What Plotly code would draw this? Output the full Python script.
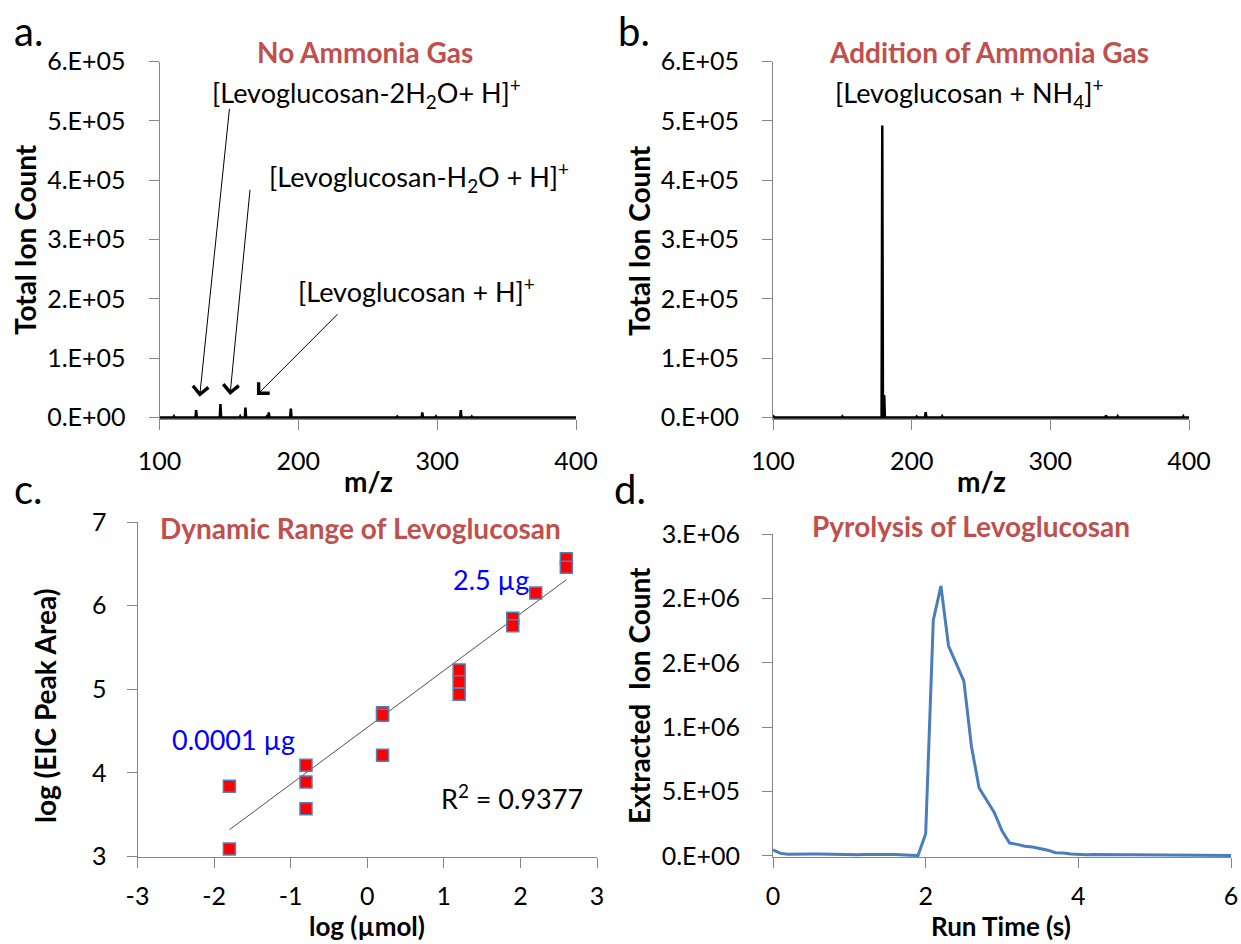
import plotly.graph_objects as go

# ---------------- data ----------------
# panel a: spectrum without ammonia (peak m/z, intensity)
mz_a = [110.4, 126.4, 143.9, 158.1, 161.9, 177.2, 178.7, 194.6, 271.3, 289.3, 299.2, 317.0, 324.9]
int_a = [2000, 12500, 22500, 2000, 16800, 1500, 8400, 15000, 1500, 8400, 1800, 12500, 1500]

# panel b: spectrum with ammonia
mz_b = [100.5, 120.0, 150.0, 178.8, 180.2, 203.6, 210.1, 222.0, 237.3, 270.0, 282.0, 300.0, 340.2, 348.6, 360.0, 395.9]
int_b = [1500, 1200, 1800, 492000, 38000, 1500, 9000, 2000, 1200, 1000, 1000, 1000, 3500, 2000, 1200, 2000]

# panel c: calibration points
log_umol = [-1.8, -1.8, -0.8, -0.8, -0.8, 0.2, 0.2, 0.2, 1.2, 1.2, 1.2, 1.9, 1.9, 2.2, 2.6, 2.6]
log_area = [3.84, 3.09, 4.09, 3.89, 3.57, 4.72, 4.69, 4.21, 5.23, 5.09, 4.94, 5.85, 5.76, 6.15, 6.56, 6.46]
trend_x = [-1.8, 2.6]
trend_y = [3.32, 6.31]

# panel d: extracted ion chromatogram
run_time = [i / 10 for i in range(61)]
eic = [47000, 20000, 13000, 12000, 13000, 15000, 16000, 15000, 12000, 8000,
       8000, 9000, 12000, 11000, 7000, 11000, 12000, 11000, 6000, 3000,
       172000, 1830000, 2096000, 1630000, 1500000, 1360000, 850000, 528000, 432000, 336000,
       195000, 100000, 90000, 76000, 70000, 60000, 45000, 25000, 23000, 15000,
       12000, 10000, 12000, 10000, 9000, 9000, 9000, 9000, 9000, 8000,
       5000, 4000, 4000, 4000, 4000, 4000, 4000, 4000, 4000, 4000, 4000]

yticks_ab = [0, 1e5, 2e5, 3e5, 4e5, 5e5, 6e5]
yticktext_ab = ["0.E+00", "1.E+05", "2.E+05", "3.E+05", "4.E+05", "5.E+05", "6.E+05"]
xticks_ab = [100, 200, 300, 400]
xticks_c = [-3, -2, -1, 0, 1, 2, 3]
xticktext_c = ["-3", "-2", "-1", "0", "1", "2", "3"]
yticks_c = [3, 4, 5, 6, 7]
yticks_d = [0, 5e5, 1e6, 1.5e6, 2e6, 2.5e6]
yticktext_d = ["0.E+00", "5.E+05", "1.E+06", "2.E+06", "2.E+06", "3.E+06"]
xticks_d = [0, 2, 4, 6]

# ---------------- helpers ----------------
W, H = 1241, 944
FONT = "Lato"
def px(x):
    return x / W
def py(y):
    return 1 - y / H

def spectrum(mz, inten, x0=100, x1=400, w=0.5):
    xs, ys = [x0], [0]
    for m, h in sorted(zip(mz, inten)):
        xs += [m - w, m, m + w]
        ys += [0, h, 0]
    xs.append(x1)
    ys.append(0)
    return xs, ys

fig = go.Figure()
xa, ya = spectrum(mz_a, int_a)
xb, yb = spectrum(mz_b, int_b)
fig.add_trace(go.Scatter(x=xa, y=ya, mode="lines", line=dict(color="black", width=2.5),
                         xaxis="x", yaxis="y", showlegend=False))
fig.add_trace(go.Scatter(x=xb, y=yb, mode="lines", line=dict(color="black", width=2.5),
                         xaxis="x2", yaxis="y2", showlegend=False))
fig.add_trace(go.Scatter(x=trend_x, y=trend_y, mode="lines", line=dict(color="#505050", width=1),
                         xaxis="x3", yaxis="y3", showlegend=False))
fig.add_trace(go.Scatter(x=log_umol, y=log_area, mode="markers", cliponaxis=False,
                         marker=dict(symbol="square", size=12, color="#ff0000",
                                     line=dict(color="#4f81bd", width=1.5)),
                         xaxis="x3", yaxis="y3", showlegend=False))
fig.add_trace(go.Scatter(x=run_time, y=eic, mode="lines", line=dict(color="#4a7ebb", width=3),
                         xaxis="x4", yaxis="y4", showlegend=False))

tickfont = dict(family=FONT, size=25, color="black")
def axis(**kw):
    d = dict(showline=True, linecolor="#868686", linewidth=1, ticks="outside", ticklen=10,
             tickcolor="#868686", tickwidth=1, showgrid=False, zeroline=False,
             tickfont=tickfont, automargin=False, fixedrange=True)
    d.update(kw)
    return d

fig.update_layout(
    width=W, height=H, margin=dict(l=0, r=0, t=0, b=0, autoexpand=False),
    paper_bgcolor="white", plot_bgcolor="white",
    xaxis=axis(domain=[px(159.5), px(576)], anchor="y", range=[100, 400], tickvals=xticks_ab,
               ticklabelstandoff=10),
    yaxis=axis(domain=[py(419), py(61.5)], anchor="x", range=[-2500, 6e5], tickvals=yticks_ab,
               ticktext=yticktext_ab, ticklabelstandoff=18),
    xaxis2=axis(domain=[px(773), px(1189)], anchor="y2", range=[100, 400], tickvals=xticks_ab,
                ticklabelstandoff=10),
    yaxis2=axis(domain=[py(419), py(61.5)], anchor="x2", range=[-2500, 6e5], tickvals=yticks_ab,
                ticktext=yticktext_ab, ticklabelstandoff=18),
    xaxis3=axis(domain=[px(137.5), px(597)], anchor="y3", range=[-3, 3], tickvals=xticks_c,
                ticktext=xticktext_c, ticklabelstandoff=7),
    yaxis3=axis(domain=[py(856.5), py(522)], anchor="x3", range=[3, 7], tickvals=yticks_c,
                ticklabelstandoff=15),
    xaxis4=axis(domain=[px(773), px(1231)], anchor="y4", range=[0, 6], tickvals=xticks_d,
                ticklabelstandoff=7),
    yaxis4=axis(domain=[py(857), py(534)], anchor="x4", range=[-8000, 2.5e6], tickvals=yticks_d,
                ticktext=yticktext_d, ticklabelstandoff=17),
)

anns = []
def text(t, x, y, size=27, color="black", bold=False, xanchor="center", angle=0):
    if bold:
        t = "<b>" + t + "</b>"
    anns.append(dict(text=t, x=px(x), y=py(y), xref="paper", yref="paper", showarrow=False,
                     xanchor=xanchor, yanchor="middle", textangle=angle,
                     font=dict(family=FONT, size=size, color=color)))

RED = "#c0504d"
BOLD = 28
# panel letters
text("a.", 12, 31, size=40, xanchor="left")
text("b.", 616, 31, size=40, xanchor="left")
text("c.", 12, 489, size=40, xanchor="left")
text("d.", 612, 489, size=40, xanchor="left")
# titles
text("No Ammonia Gas", 365, 52, size=BOLD, color=RED, bold=True)
text("Addition of Ammonia Gas", 989, 52, size=BOLD, color=RED, bold=True)
text("Dynamic Range of Levoglucosan", 360, 528, size=BOLD, color=RED, bold=True)
text("Pyrolysis of Levoglucosan", 971, 526, size=BOLD, color=RED, bold=True)
# axis titles
text("Total Ion Count", 25, 240, size=BOLD, bold=True, angle=-90)
text("Total Ion Count", 639, 240, size=BOLD, bold=True, angle=-90)
text("m/z", 368, 481, size=BOLD, bold=True)
text("m/z", 981, 481, size=BOLD, bold=True)
text("log (EIC Peak Area)", 45, 706, size=BOLD, bold=True, angle=-90)
text("log (µmol)", 367, 926, size=26, bold=True)
text("Extracted\u00a0 Ion Count", 639, 695, size=BOLD, bold=True, angle=-90)
text("Run Time (s)", 1001, 926, size=26, bold=True)
# ion labels
text("[Levoglucosan-2H<sub>2</sub>O+ H]<sup>+</sup>", 210, 93, xanchor="left")
text("[Levoglucosan-H<sub>2</sub>O + H]<sup>+</sup>", 267, 177, xanchor="left")
text("[Levoglucosan + H]<sup>+</sup>", 296, 290, xanchor="left")
text("[Levoglucosan + NH<sub>4</sub>]<sup>+</sup>", 833, 93, xanchor="left")
# panel c labels
text("2.5 µg", 491, 579, color="#0000ff")
text("0.0001 µg", 233, 739, color="#0000ff")
text("R<sup>2</sup> = 0.9377", 512, 797)

# arrows in panel a (tail -> head, data coordinates)
arrows = [((150.5, 522800), (128.9, 35000)),
          ((165.3, 386300), (150.8, 38000)),
          ((229.3, 176600), (170.2, 38000))]
for (tx, ty), (hx, hy) in arrows:
    anns.append(dict(text="", x=hx, y=hy, ax=tx, ay=ty, xref="x", yref="y", axref="x", ayref="y",
                     showarrow=True, arrowhead=4, arrowsize=3.0, arrowwidth=1.0,
                     arrowcolor="black", standoff=0, startstandoff=0))

fig.update_layout(annotations=anns)
fig.write_html("out.html")
